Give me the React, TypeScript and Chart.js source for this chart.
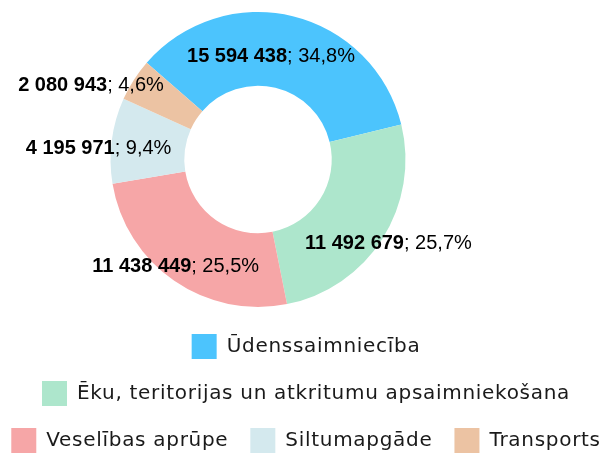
import React, { useEffect, useRef } from 'react';
import { Chart, registerables } from 'chart.js';

Chart.register(...registerables);

const CATEGORIES = [
  'Ūdenssaimniecība',
  'Ēku, teritorijas un atkritumu apsaimniekošana',
  'Veselības aprūpe',
  'Siltumapgāde',
  'Transports',
];
const VALUES = [15594438, 11492679, 11438449, 4195971, 2080943];
const COLORS = ['#4cc4fd', '#ade6cc', '#f6a6a7', '#d4e9ee', '#ecc3a3'];

const LEGEND_FONT = "'DejaVu Sans', sans-serif";
const LABEL_FONT = "'Liberation Sans', Arial, sans-serif";
const LEGEND_SPACING = '0.7px';

const fmtNum = (v: number) => String(v).replace(/\B(?=(\d{3})+(?!\d))/g, ' ');
const fmtPct = (v: number, t: number) => ((v / t) * 100).toFixed(1).replace('.', ',') + '%';

const setSpacing = (chart: any, v: string) => {
  const ctx = chart.ctx as any;
  if (ctx && 'letterSpacing' in ctx) ctx.letterSpacing = v;
};

const layoutPlugin = {
  id: 'shiftArea',
  beforeUpdate(chart: any) {
    setSpacing(chart, LEGEND_SPACING);
  },
  beforeLayout(chart: any) {
    setSpacing(chart, LEGEND_SPACING);
  },
  afterLayout(chart: any, _args: any, opts: any) {
    const a = chart.chartArea;
    a.right = a.right - opts.rightInset;
    a.width = a.right - a.left;
  },
  beforeDraw(chart: any) {
    setSpacing(chart, LEGEND_SPACING);
  },
};

const labelPlugin = {
  id: 'sliceLabels',
  afterDatasetsDraw(chart: any, _args: any, opts: any) {
    const ctx = chart.ctx;
    const meta = chart.getDatasetMeta(0);
    const data = chart.data.datasets[0].data as number[];
    const total = data.reduce((a, b) => a + b, 0);
    meta.data.forEach((arc: any, i: number) => {
      const p = arc.getProps(['x', 'y', 'startAngle', 'endAngle', 'outerRadius'], true);
      const place = opts.placement[i];
      const mid = (p.startAngle + p.endAngle) / 2 + (place.shift * Math.PI) / 180;
      const r = p.outerRadius * place.r;
      const cx = p.x + Math.cos(mid) * r;
      const cy = p.y + Math.sin(mid) * r;
      const bold = fmtNum(data[i]);
      const rest = '; ' + fmtPct(data[i], total);
      ctx.save();
      if ('letterSpacing' in ctx) (ctx as any).letterSpacing = '0px';
      ctx.textBaseline = 'middle';
      ctx.textAlign = 'left';
      ctx.fillStyle = '#000';
      const boldFont = `700 ${opts.size}px ${LABEL_FONT}`;
      const normFont = `400 ${opts.size}px ${LABEL_FONT}`;
      ctx.font = boldFont;
      const wb = ctx.measureText(bold).width;
      ctx.font = normFont;
      const wr = ctx.measureText(rest).width;
      const x = cx - (wb + wr) / 2;
      ctx.font = boldFont;
      ctx.fillText(bold, x, cy);
      ctx.font = normFont;
      ctx.fillText(rest, x + wb, cy);
      ctx.restore();
    });
  },
};

export default function App() {
  const ref = useRef<HTMLCanvasElement>(null);
  useEffect(() => {
    if (!ref.current) return;
    const chart = new Chart(ref.current, {
      type: 'doughnut',
      data: {
        labels: CATEGORIES,
        datasets: [
          {
            data: VALUES,
            backgroundColor: COLORS,
            borderWidth: 0,
            radius: '96.7%',
          } as any,
        ],
      },
      options: {
        animation: false,
        responsive: true,
        maintainAspectRatio: false,
        rotation: -49,
        cutout: '50%',
        layout: { padding: { top: 7, left: 0, right: 0, bottom: 0 } },
        plugins: {
          tooltip: { enabled: false },
          shiftArea: { rightInset: 96 },
          legend: {
            position: 'bottom',
            labels: {
              boxWidth: 25,
              boxHeight: 25,
              padding: 22,
              color: '#1a1a1a',
              font: { family: LEGEND_FONT, size: 20 },
            },
          },
          sliceLabels: {
            size: 20,
            placement: [
              { r: 0.706, shift: -6.5 },
              { r: 1.053, shift: 0.4 },
              { r: 0.917, shift: 2.9 },
              { r: 1.084, shift: -3.4 },
              { r: 1.24, shift: -8.6 },
            ],
          },
        } as any,
      },
      plugins: [layoutPlugin, labelPlugin],
    });
    return () => chart.destroy();
  }, []);
  return (
    <div style={{ position: 'fixed', left: 0, top: 0, width: 612, height: 453, overflow: 'hidden', background: '#fff' }}>
      <div style={{ position: 'absolute', left: -30, top: 0, width: 672, height: 463 }}>
        <canvas ref={ref} />
      </div>
    </div>
  );
}
